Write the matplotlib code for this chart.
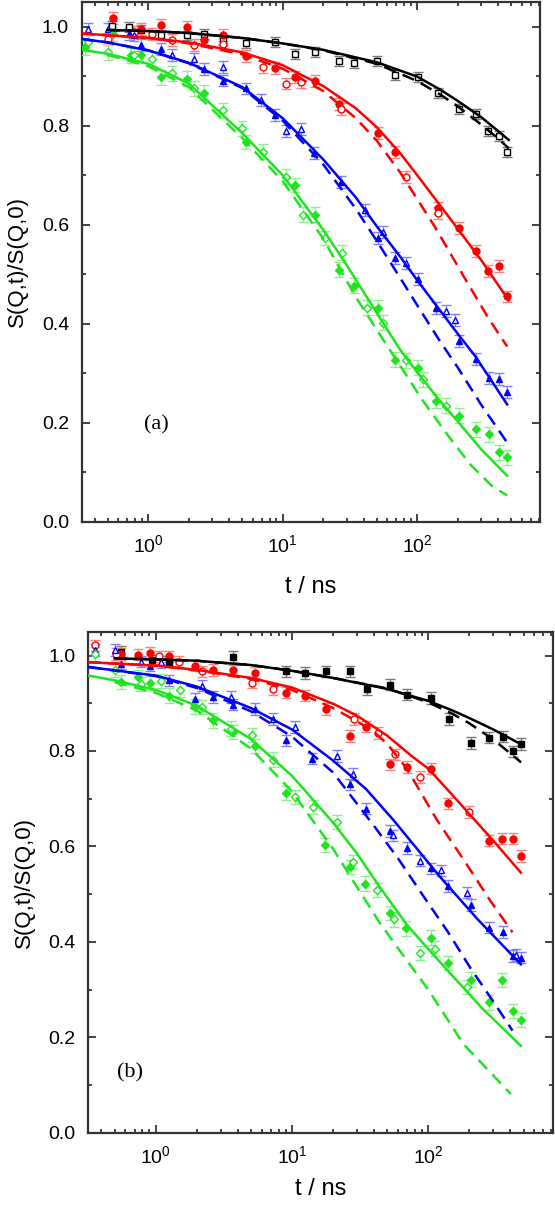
import numpy as np
import matplotlib
matplotlib.use("Agg")
import matplotlib.pyplot as plt
from matplotlib.ticker import LogLocator, MultipleLocator, FormatStrFormatter, NullFormatter

plt.rcParams['font.family'] = ['Liberation Sans', 'DejaVu Sans']
plt.rcParams['mathtext.default'] = 'regular'

# ---------------- panel (a) data ----------------
a_black_open_t = [0.54, 0.72, 0.89, 1.24, 1.94, 2.6, 3.6, 5.33, 8.8, 12.3, 17.5, 26.1, 34.2, 50.7, 68.7, 101, 142, 204, 276, 338, 406, 467]
a_black_open_y = [1.002, 0.999, 0.993, 0.983, 0.982, 0.985, 0.973, 0.966, 0.968, 0.945, 0.948, 0.930, 0.926, 0.930, 0.903, 0.899, 0.866, 0.834, 0.824, 0.789, 0.779, 0.747]

a_red_fill_t = [0.55, 0.89, 1.25, 1.94, 2.6, 3.6, 5.33, 8.8, 12.3, 17.5, 26.1, 51.6, 68.7, 142, 204, 276, 338, 406, 467]
a_red_fill_y = [1.017, 0.995, 1.003, 0.999, 0.973, 0.983, 0.940, 0.917, 0.898, 0.890, 0.844, 0.785, 0.747, 0.633, 0.593, 0.546, 0.506, 0.516, 0.455]
a_red_open_t = [0.50, 0.79, 1.06, 1.50, 2.19, 3.6, 7.1, 10.6, 13.8, 27, 82, 142]
a_red_open_y = [0.975, 0.989, 0.985, 0.973, 0.962, 0.965, 0.918, 0.885, 0.888, 0.834, 0.697, 0.623]

a_blue_fill_t = [0.72, 0.89, 1.25, 2.6, 3.6, 5.33, 8.8, 17.1, 27, 51.6, 68.7, 101, 139, 204, 276, 340, 406, 467]
a_blue_fill_y = [0.985, 0.962, 0.955, 0.915, 0.891, 0.875, 0.821, 0.744, 0.687, 0.573, 0.533, 0.490, 0.432, 0.365, 0.329, 0.291, 0.288, 0.262]
a_blue_open_t = [0.36, 0.50, 0.79, 1.50, 2.19, 3.6, 6.9, 10.6, 13.8, 41, 55.8, 82, 164, 192]
a_blue_open_y = [0.995, 0.995, 0.982, 0.942, 0.935, 0.918, 0.851, 0.789, 0.794, 0.630, 0.586, 0.522, 0.425, 0.408]

a_green_fill_t = [0.34, 0.55, 0.74, 0.89, 1.25, 1.94, 2.6, 5.33, 12.3, 17.5, 26.1, 34.2, 51.6, 68.7, 101, 139, 204, 276, 340, 406, 467]
a_green_fill_y = [0.958, 0.985, 0.942, 0.942, 0.898, 0.895, 0.866, 0.767, 0.680, 0.620, 0.509, 0.477, 0.432, 0.327, 0.311, 0.244, 0.214, 0.187, 0.177, 0.140, 0.130]
a_green_open_t = [0.36, 0.50, 0.79, 1.07, 1.50, 2.19, 3.6, 4.96, 7.1, 10.6, 14.2, 20.5, 27.8, 42.4, 55.8, 82, 111, 164]
a_green_open_y = [0.968, 0.948, 0.942, 0.935, 0.906, 0.875, 0.831, 0.795, 0.747, 0.697, 0.620, 0.573, 0.543, 0.432, 0.402, 0.326, 0.288, 0.234]

# fit curves (a)
a_black_solid_t = [0.5, 1, 2, 5, 10, 20, 50, 100, 150, 200, 300, 400, 480]
a_black_solid_y = [0.993, 0.991, 0.987, 0.977, 0.966, 0.953, 0.928, 0.899, 0.872, 0.850, 0.817, 0.789, 0.771]
a_black_dash_t = [0.5, 1, 2, 5, 10, 20, 50, 100, 150, 200, 300, 400, 480]
a_black_dash_y = [0.993, 0.991, 0.987, 0.977, 0.966, 0.952, 0.925, 0.890, 0.862, 0.839, 0.802, 0.774, 0.754]

a_red_solid_t = [0.32, 1, 2, 5, 10, 20, 35, 50, 75, 100, 150, 200, 300, 480]
a_red_solid_y = [0.986, 0.977, 0.968, 0.948, 0.922, 0.880, 0.835, 0.797, 0.744, 0.700, 0.637, 0.592, 0.528, 0.447]
a_red_dash_t = [0.32, 1, 2, 5, 10, 20, 35, 50, 75, 100, 136, 216, 341, 467]
a_red_dash_y = [0.986, 0.977, 0.966, 0.944, 0.915, 0.870, 0.815, 0.770, 0.705, 0.652, 0.595, 0.501, 0.410, 0.354]

a_blue_solid_t = [0.32, 0.5, 1, 2, 5, 10, 20, 35, 50, 75, 100, 136, 200, 271, 467]
a_blue_solid_y = [0.975, 0.968, 0.952, 0.927, 0.878, 0.815, 0.732, 0.655, 0.597, 0.535, 0.488, 0.440, 0.380, 0.334, 0.237]
a_blue_dash_t = [0.32, 0.5, 1, 2, 5, 10, 20, 35, 48.8, 75, 108.6, 150, 200, 300, 467]
a_blue_dash_y = [0.975, 0.968, 0.952, 0.926, 0.876, 0.810, 0.722, 0.632, 0.572, 0.492, 0.422, 0.362, 0.312, 0.236, 0.160]

a_green_solid_t = [0.32, 0.5, 1, 2, 5, 10, 20, 30, 50, 75, 100, 150, 200, 300, 467]
a_green_solid_y = [0.953, 0.945, 0.925, 0.885, 0.785, 0.700, 0.590, 0.518, 0.422, 0.347, 0.302, 0.242, 0.203, 0.146, 0.093]
a_green_dash_t = [0.5, 1, 2, 5, 10, 20, 34.6, 50, 72.8, 110, 171, 250, 361, 467]
a_green_dash_y = [0.943, 0.920, 0.878, 0.775, 0.688, 0.572, 0.456, 0.388, 0.320, 0.245, 0.173, 0.115, 0.072, 0.053]

# ---------------- panel (b) data ----------------
b_black_fill_t = [0.56, 0.94, 1.26, 3.67, 9.0, 12.5, 17.9, 26.6, 35.5, 52, 70, 105, 142, 206, 281, 356, 418, 478]
b_black_fill_y = [1.008, 0.990, 0.987, 0.997, 0.967, 0.963, 0.967, 0.967, 0.929, 0.939, 0.918, 0.911, 0.867, 0.817, 0.828, 0.830, 0.799, 0.815]

b_red_fill_t = [0.56, 0.74, 0.91, 1.25, 1.95, 2.64, 3.67, 5.4, 9.0, 12.5, 17.7, 26.6, 35.2, 52, 70, 105, 139, 277, 349, 418, 478]
b_red_fill_y = [1.003, 1.002, 1.005, 0.998, 0.979, 0.970, 0.969, 0.964, 0.922, 0.916, 0.888, 0.831, 0.851, 0.772, 0.766, 0.763, 0.690, 0.612, 0.616, 0.616, 0.580]
b_red_open_t = [0.36, 0.51, 1.05, 1.49, 2.17, 5.1, 7.2, 28.5, 42.8, 57, 86.6, 200]
b_red_open_y = [1.021, 1.003, 0.998, 0.987, 0.967, 0.943, 0.930, 0.867, 0.838, 0.793, 0.745, 0.672]

b_blue_fill_t = [0.56, 0.91, 1.25, 1.95, 2.64, 3.67, 5.4, 9.0, 14.1, 26.6, 35.2, 52, 70, 105, 139, 206, 277, 356, 418, 478]
b_blue_fill_y = [0.983, 0.979, 0.948, 0.909, 0.913, 0.897, 0.888, 0.822, 0.784, 0.730, 0.679, 0.632, 0.597, 0.554, 0.517, 0.477, 0.430, 0.421, 0.370, 0.367]
b_blue_open_t = [0.36, 0.50, 0.78, 1.09, 2.2, 3.6, 7.2, 10.6, 21.4, 28.2, 55, 86.6, 124, 192, 438]
b_blue_open_y = [1.012, 1.012, 0.987, 0.986, 0.937, 0.913, 0.867, 0.850, 0.789, 0.752, 0.623, 0.570, 0.550, 0.503, 0.372]

b_green_fill_t = [0.56, 0.74, 0.91, 1.25, 1.95, 2.64, 3.67, 5.4, 9.0, 17.5, 26.6, 34.2, 52, 69, 104, 139, 206, 277, 349, 418, 478]
b_green_fill_y = [0.944, 0.955, 0.942, 0.916, 0.893, 0.864, 0.840, 0.810, 0.712, 0.603, 0.557, 0.522, 0.460, 0.428, 0.409, 0.355, 0.321, 0.273, 0.320, 0.255, 0.236]
b_green_open_t = [0.36, 0.50, 0.78, 1.09, 1.51, 2.2, 3.6, 5.1, 7.2, 10.6, 14.3, 21.4, 28.2, 42, 56, 86.6, 113, 192]
b_green_open_y = [1.003, 0.970, 0.941, 0.947, 0.928, 0.892, 0.847, 0.834, 0.782, 0.704, 0.683, 0.651, 0.568, 0.508, 0.447, 0.376, 0.386, 0.306]

b_black_solid_t = [0.5, 1, 2, 5, 10, 20, 50, 100, 150, 200, 300, 400, 480]
b_black_solid_y = [0.994, 0.992, 0.989, 0.980, 0.968, 0.953, 0.930, 0.905, 0.885, 0.869, 0.845, 0.826, 0.814]
b_black_dash_t = [0.5, 1, 2, 5, 10, 20, 50, 100, 150, 200, 300, 400, 480]
b_black_dash_y = [0.994, 0.992, 0.989, 0.980, 0.968, 0.953, 0.931, 0.902, 0.878, 0.858, 0.824, 0.795, 0.776]

b_red_solid_t = [0.32, 1, 2, 5, 10, 20, 30, 50, 75, 100, 150, 200, 300, 478]
b_red_solid_y = [0.986, 0.979, 0.970, 0.953, 0.933, 0.899, 0.874, 0.832, 0.790, 0.763, 0.708, 0.668, 0.612, 0.545]
b_red_dash_t = [0.32, 1, 2, 5, 10, 20, 30, 40, 50, 70, 116, 182, 287, 415]
b_red_dash_y = [0.986, 0.979, 0.969, 0.951, 0.928, 0.890, 0.862, 0.840, 0.815, 0.762, 0.655, 0.572, 0.485, 0.420]

b_blue_solid_t = [0.32, 1, 2, 5, 10, 20, 35, 55.6, 80, 123, 229, 478]
b_blue_solid_y = [0.976, 0.958, 0.935, 0.890, 0.845, 0.780, 0.720, 0.655, 0.600, 0.535, 0.448, 0.353]
b_blue_dash_t = [0.32, 1, 2, 5, 10, 20, 39.5, 60, 92.5, 140, 204, 300, 415]
b_blue_dash_y = [0.976, 0.957, 0.932, 0.883, 0.830, 0.755, 0.645, 0.575, 0.495, 0.420, 0.345, 0.275, 0.214]

b_green_solid_t = [0.32, 0.5, 1, 2, 5, 10, 20, 30, 44, 70, 100, 163, 250, 478]
b_green_solid_y = [0.958, 0.948, 0.928, 0.895, 0.825, 0.748, 0.650, 0.585, 0.515, 0.435, 0.385, 0.318, 0.260, 0.182]
b_green_dash_t = [0.5, 1, 2, 5, 10, 20, 30, 44, 70, 100, 182, 300, 403]
b_green_dash_y = [0.944, 0.922, 0.885, 0.805, 0.715, 0.595, 0.515, 0.440, 0.360, 0.300, 0.185, 0.120, 0.081]

# colours: line / error bar
BLACK, BLACK_E = '#000000', '#7a7a7a'
RED, RED_E = '#ff0000', '#ff8080'
BLUE, BLUE_E = '#0000ff', '#8080ff'
GREEN, GREEN_E = '#1ee61e', '#8cf08c'


def pts(ax, t, y, marker, col, ecol, filled, err=0.012, ms=5.0):
    ax.errorbar(t, y, yerr=err, fmt=marker, ms=ms, color=col, mec=col,
                mfc=col if filled else 'white', mew=1.0, ecolor=ecol,
                elinewidth=0.9, capsize=3.8, capthick=0.9, zorder=3)


def fit(ax, t, y, col, dashed):
    if dashed:
        ax.plot(t, y, color=col, lw=1.8, ls=(0, (5, 3)), zorder=4)
    else:
        ax.plot(t, y, color=col, lw=1.8, zorder=4)


def style(ax, xpad):
    ax.set_xscale('log')
    ax.set_xlim(0.32, 820)
    ax.set_ylim(0, 1.05)
    ax.yaxis.set_major_locator(MultipleLocator(0.2))
    ax.yaxis.set_minor_locator(MultipleLocator(0.1))
    ax.yaxis.set_major_formatter(FormatStrFormatter('%.1f'))
    ax.xaxis.set_major_locator(LogLocator(base=10))
    ax.xaxis.set_minor_locator(LogLocator(base=10, subs=np.arange(2, 10)))
    ax.xaxis.set_minor_formatter(NullFormatter())
    ax.tick_params(which='both', direction='in', top=True, right=True, width=1.2, colors='#222222',
                   labelcolor='black', labelsize=14)
    ax.tick_params(which='major', length=6)
    ax.tick_params(which='minor', length=3)
    ax.tick_params(axis='x', pad=9)
    ax.tick_params(axis='y', pad=9)
    for s in ax.spines.values():
        s.set_linewidth(1.6)
        s.set_color('#333333')
    ax.set_xlabel('t / ns', fontsize=17, labelpad=xpad)
    ax.set_ylabel('S(Q,t)/S(Q,0)', fontsize=16, labelpad=10)


fig = plt.figure(figsize=(5.55, 12.05), dpi=100)

# ---- (a)
ax1 = fig.add_axes([0.147, 0.567, 0.826, 0.4315])
pts(ax1, a_black_open_t, a_black_open_y, 's', BLACK, BLACK_E, False, 0.010, 4.5)
pts(ax1, a_red_fill_t, a_red_fill_y, 'o', RED, RED_E, True)
pts(ax1, a_red_open_t, a_red_open_y, 'o', RED, RED_E, False)
pts(ax1, a_blue_fill_t, a_blue_fill_y, '^', BLUE, BLUE_E, True)
pts(ax1, a_blue_open_t, a_blue_open_y, '^', BLUE, BLUE_E, False)
pts(ax1, a_green_fill_t, a_green_fill_y, 'D', GREEN, GREEN_E, True, 0.015, 4.5)
pts(ax1, a_green_open_t, a_green_open_y, 'D', GREEN, GREEN_E, False, 0.015, 4.5)
fit(ax1, a_black_solid_t, a_black_solid_y, BLACK, False)
fit(ax1, a_black_dash_t, a_black_dash_y, BLACK, True)
fit(ax1, a_red_solid_t, a_red_solid_y, RED, False)
fit(ax1, a_red_dash_t, a_red_dash_y, RED, True)
fit(ax1, a_blue_solid_t, a_blue_solid_y, BLUE, False)
fit(ax1, a_blue_dash_t, a_blue_dash_y, BLUE, True)
fit(ax1, a_green_solid_t, a_green_solid_y, GREEN, False)
fit(ax1, a_green_dash_t, a_green_dash_y, GREEN, True)
style(ax1, 14)
ax1.text(1.15, 0.195, '(a)', fontsize=16, family=['Liberation Serif', 'DejaVu Serif'],
         ha='center', va='center')

# ---- (b)
ax2 = fig.add_axes([0.159, 0.060, 0.837, 0.4158])
pts(ax2, b_black_fill_t, b_black_fill_y, 's', BLACK, BLACK_E, True, 0.012, 4.5)
pts(ax2, b_red_fill_t, b_red_fill_y, 'o', RED, RED_E, True)
pts(ax2, b_red_open_t, b_red_open_y, 'o', RED, RED_E, False)
pts(ax2, b_blue_fill_t, b_blue_fill_y, '^', BLUE, BLUE_E, True)
pts(ax2, b_blue_open_t, b_blue_open_y, '^', BLUE, BLUE_E, False)
pts(ax2, b_green_fill_t, b_green_fill_y, 'D', GREEN, GREEN_E, True, 0.015, 4.5)
pts(ax2, b_green_open_t, b_green_open_y, 'D', GREEN, GREEN_E, False, 0.015, 4.5)
fit(ax2, b_black_solid_t, b_black_solid_y, BLACK, False)
fit(ax2, b_black_dash_t, b_black_dash_y, BLACK, True)
fit(ax2, b_red_solid_t, b_red_solid_y, RED, False)
fit(ax2, b_red_dash_t, b_red_dash_y, RED, True)
fit(ax2, b_blue_solid_t, b_blue_solid_y, BLUE, False)
fit(ax2, b_blue_dash_t, b_blue_dash_y, BLUE, True)
fit(ax2, b_green_solid_t, b_green_solid_y, GREEN, False)
fit(ax2, b_green_dash_t, b_green_dash_y, GREEN, True)
style(ax2, 8)
ax2.text(0.65, 0.125, '(b)', fontsize=16, family=['Liberation Serif', 'DejaVu Serif'],
         ha='center', va='center')

fig.savefig('out.png', dpi=100)
